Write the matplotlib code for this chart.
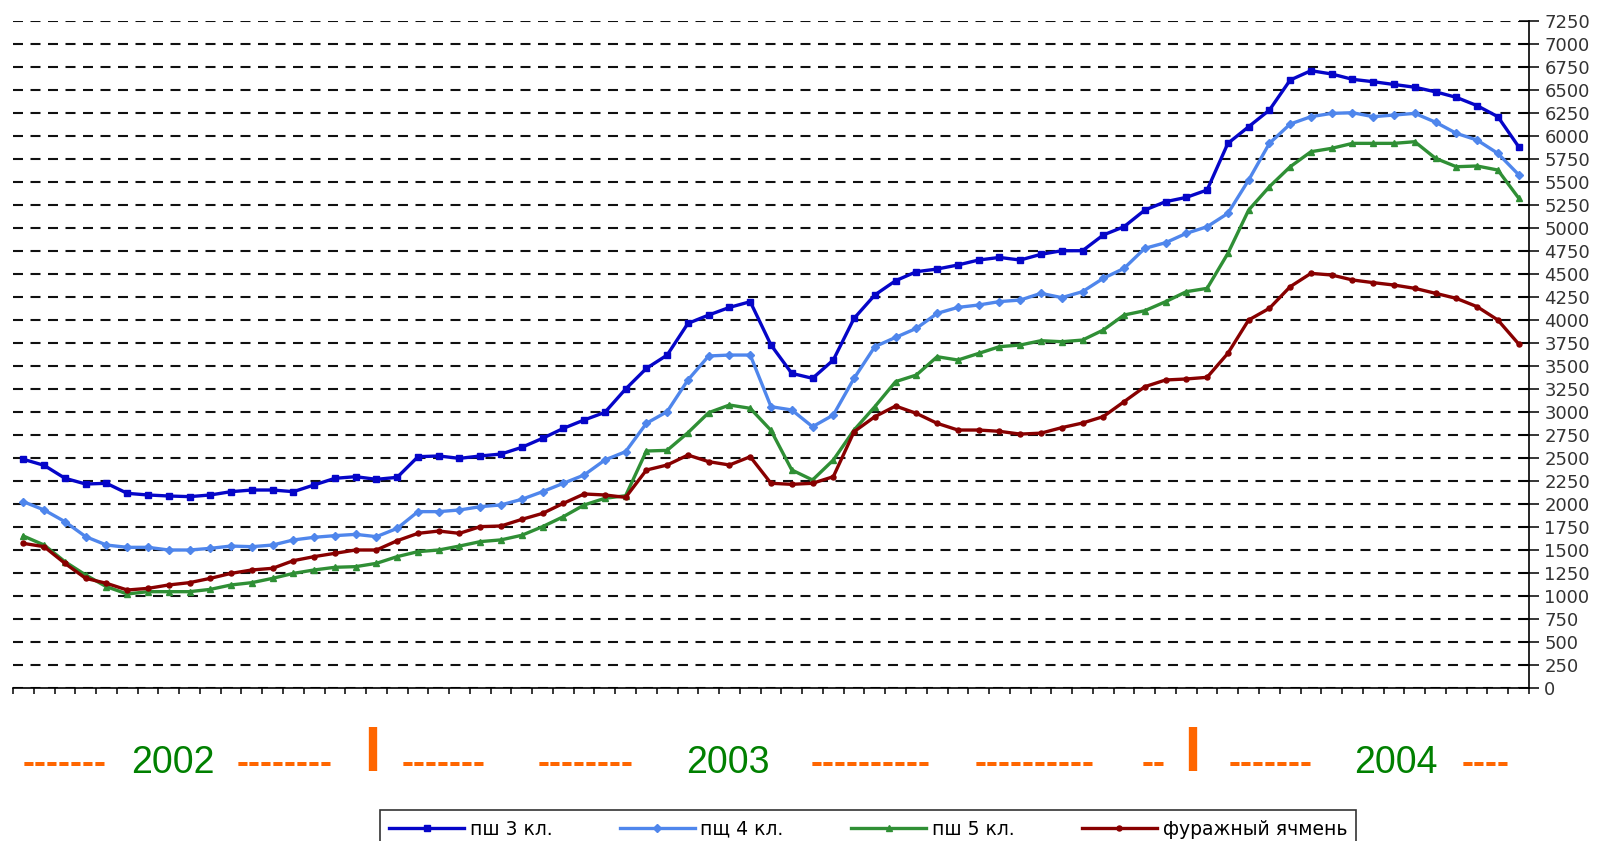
import numpy as np
from matplotlib import pyplot as plt
from matplotlib.lines import Line2D

# prices, rub/t, one value per category (left to right)
wheat3 = [2486, 2420, 2280, 2217, 2225, 2116, 2098, 2087, 2080, 2098,
          2134, 2152, 2152, 2134, 2207, 2279, 2297, 2268, 2290, 2514,
          2522, 2496, 2522, 2543, 2616, 2714, 2822, 2913, 2996, 3250,
          3474, 3619, 3963, 4054, 4137, 4199, 3728, 3420, 3366, 3565,
          4018, 4272, 4427, 4525, 4554, 4598, 4652, 4680, 4652, 4714,
          4753, 4753, 4924, 5014, 5195, 5286, 5333, 5413, 5920, 6101,
          6282, 6608, 6710, 6674, 6616, 6590, 6560, 6530, 6480, 6420,
          6330, 6210, 5884]
wheat4 = [2025, 1935, 1808, 1645, 1554, 1529, 1529, 1500, 1500, 1518,
          1543, 1536, 1554, 1609, 1638, 1656, 1670, 1645, 1735, 1917,
          1917, 1935, 1971, 1990, 2051, 2134, 2225, 2315, 2478, 2569,
          2877, 3004, 3348, 3609, 3619, 3619, 3058, 3022, 2840, 2967,
          3366, 3710, 3811, 3909, 4072, 4137, 4163, 4200, 4217, 4290,
          4243, 4308, 4453, 4561, 4779, 4840, 4942, 5014, 5159, 5521,
          5920, 6130, 6210, 6246, 6253, 6210, 6228, 6246, 6150, 6029,
          5956, 5811, 5580]
wheat5 = [1652, 1554, 1373, 1228, 1101, 1022, 1047, 1047, 1047, 1072,
          1120, 1145, 1192, 1246, 1283, 1312, 1319, 1355, 1428, 1482,
          1500, 1543, 1591, 1610, 1660, 1754, 1862, 1989, 2062, 2090,
          2576, 2583, 2775, 2993, 3076, 3040, 2800, 2370, 2261, 2478,
          2804, 3058, 3330, 3402, 3601, 3565, 3637, 3710, 3728, 3775,
          3764, 3782, 3891, 4054, 4101, 4199, 4308, 4344, 4724, 5195,
          5449, 5666, 5829, 5866, 5920, 5920, 5920, 5938, 5757, 5666,
          5674, 5630, 5326]
barley = [1572, 1536, 1355, 1192, 1138, 1065, 1083, 1120, 1145, 1192,
          1246, 1283, 1301, 1384, 1428, 1464, 1500, 1500, 1601, 1681,
          1706, 1681, 1754, 1761, 1833, 1898, 2007, 2109, 2098, 2072,
          2369, 2424, 2532, 2460, 2424, 2514, 2225, 2214, 2225, 2297,
          2786, 2949, 3065, 2985, 2877, 2804, 2804, 2790, 2760, 2770,
          2830, 2880, 2950, 3112, 3275, 3348, 3359, 3377, 3638, 4000,
          4127, 4362, 4507, 4489, 4435, 4406, 4380, 4344, 4290, 4235,
          4145, 4000, 3740]

labels = ["пш 3 кл.", "пщ 4 кл.", "пш 5 кл.", "фуражный ячмень"]
y_ticks = list(range(0, 7251, 250))
years = ["2002", "2003", "2004"]

W, H = 1617, 841
ORANGE = "#FF6600"

plt.rcParams["font.family"] = ["DejaVu Sans"]
plt.rcParams["lines.scale_dashes"] = False

fig = plt.figure(figsize=(W / 100, H / 100), dpi=100)
ax = fig.add_axes([13 / W, 1 - 688 / H, (1529 - 13) / W, (688 - 21) / H])

x = np.arange(len(wheat3))
styles = [
    ("#0505C8", "s", 5.0),
    ("#4F86EC", "D", 3.6),
    ("#2F8F35", "^", 5.0),
    ("#880000", "o", 3.6),
]
for ys, lab, (col, mk, ms) in zip([wheat3, wheat4, wheat5, barley], labels, styles):
    ax.plot(x, ys, color=col, lw=2.4, marker=mk, ms=ms, mec=col, mfc=col, label=lab)

ax.set_xlim(-0.5, len(x) - 0.5)
ax.set_ylim(0, 7250)
ax.set_xticks(np.arange(len(x) + 1) - 0.5)
ax.set_xticklabels([])
ax.tick_params(axis="x", direction="out", length=4, width=1.1, color="black")

ax.yaxis.tick_right()
ax.set_yticks(y_ticks)
ax.set_yticklabels([str(v) for v in y_ticks])
ax.tick_params(axis="y", direction="inout", length=14, width=1.1, pad=4,
               labelsize=13, labelcolor="#333333", color="black")
ax.yaxis.grid(True, color="#111111", lw=1.5, linestyle=(0, (7.2, 5.4)))
ax.set_axisbelow(True)

for s in ["top", "left"]:
    ax.spines[s].set_visible(False)
ax.spines["bottom"].set_linewidth(1.2)
ax.spines["right"].set_linewidth(1.2)

# year strip under the chart
strip = [("-------", 23), (years[0], 131), ("--------", 237),
         ("-------", 402), ("--------", 538), (years[1], 686),
         ("----------", 811), ("----------", 975), ("--", 1142),
         ("-------", 1229), (years[2], 1354), ("----", 1462)]
base_y = 1 - 773 / H
for txt, px in strip:
    if txt in years:
        fig.text(px / W, base_y, txt, color="#008000", fontsize=27,
                 family="Liberation Sans", ha="left", va="baseline")
    else:
        fig.text(px / W, base_y, txt, color=ORANGE, fontsize=26,
                 family="Liberation Sans", fontweight="bold",
                 ha="left", va="baseline")
for px in [373, 1193]:
    fig.add_artist(Line2D([px / W, px / W], [1 - 771 / H, 1 - 727 / H],
                          transform=fig.transFigure, color=ORANGE, lw=6,
                          solid_capstyle="butt"))

leg = fig.legend(loc="upper center", bbox_to_anchor=(868 / W, 1 - 801 / H),
                 ncol=4, fontsize=13.5, frameon=True, fancybox=False,
                 edgecolor="black", handlelength=4, handletextpad=0.3,
                 columnspacing=3.6, borderpad=0.5, numpoints=1)
leg.get_frame().set_linewidth(1.2)

fig.savefig("out.png", dpi=100)
